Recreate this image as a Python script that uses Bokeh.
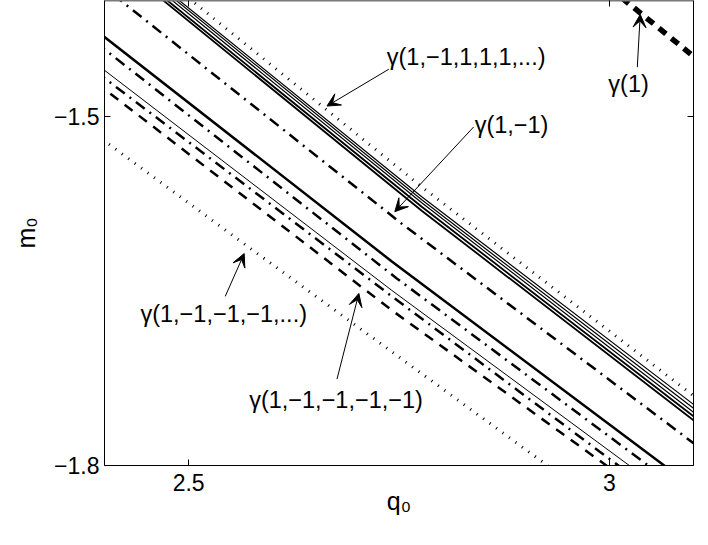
from bokeh.plotting import figure
from bokeh.models import Range1d, FixedTicker, LinearAxis, Label, Arrow, VeeHead
from bokeh.embed import file_html
from bokeh.resources import INLINE

# ---- axes ----
x_ticks = [2.5, 3.0]
x_tick_labels = ["2.5", "3"]
y_ticks = [-1.8, -1.5]
y_tick_labels = ["\u22121.8", "\u22121.5"]

# ---- curves (q0, m0) ----
# gamma(1): thick dashed
g1_q = [3.00, 3.10]
g1_m = [-1.389, -1.448]
# limit gamma(1,-1,1,1,1,...): dotted
up_lim_q = [2.50, 2.78, 3.10]
up_lim_m = [-1.398, -1.562, -1.740]
# bundle of thin solid curves converging to the upper limit
bundle_q = [[2.4804, 2.777, 3.10],
            [2.4768, 2.777, 3.10],
            [2.4721, 2.777, 3.10],
            [2.4662, 2.777, 3.10],
            [2.4615, 2.777, 3.10]]
bundle_m = [[-1.395, -1.5688, -1.7474],
            [-1.395, -1.5714, -1.7508],
            [-1.395, -1.5740, -1.7542],
            [-1.395, -1.5774, -1.7577],
            [-1.395, -1.5808, -1.7611]]
bundle_w = [1.2, 1.2, 1.2, 1.8, 1.8]
# gamma(1,-1): dash-dot
g1m1_q = [2.4105, 2.7533, 3.10]
g1m1_m = [-1.395, -1.5920, -1.7808]
# thick solid
ts_q = [2.39, 2.7415, 3.0836]
ts_m = [-1.4257, -1.6245, -1.81]
# dash-dot (lower group)
dd_q = [2.39, 2.7474, 3.0648]
dd_m = [-1.4363, -1.6391, -1.81]
# thin solid
tn_q = [2.39, 2.7415, 3.0424]
tn_m = [-1.4545, -1.6494, -1.81]
# dash-dot close to thin solid
dd2_q = [2.39, 2.7415, 3.0291]
dd2_m = [-1.4613, -1.6545, -1.81]
# gamma(1,-1,-1,-1,-1): dashed
g5_q = [2.39, 2.7415, 3.0155]
g5_m = [-1.4707, -1.6665, -1.81]
# limit gamma(1,-1,-1,-1,...): dotted
lo_lim_q = [2.39, 2.5672, 2.9453]
lo_lim_m = [-1.5155, -1.6100, -1.81]

# ---- annotations ----
ann_text = ["\u03b3(1,\u22121,1,1,1,...)", "\u03b3(1)", "\u03b3(1,\u22121)",
            "\u03b3(1,\u22121,\u22121,\u22121,...)", "\u03b3(1,\u22121,\u22121,\u22121,\u22121)"]
ann_q = [2.7355, 2.9988, 2.8399, 2.4427, 2.5719]
ann_m = [-1.4488, -1.4720, -1.5071, -1.6700, -1.7437]
arr_q0 = [2.7379, 3.0332, 2.8387, 2.5435, 2.6763]
arr_m0 = [-1.4591, -1.4574, -1.5088, -1.6545, -1.7257]
arr_q1 = [2.6644, 3.0367, 2.7450, 2.5660, 2.7023]
arr_m1 = [-1.4908, -1.4120, -1.5817, -1.6177, -1.6520]

FONT = "Liberation Sans"

p = figure(width=700, height=537, x_range=Range1d(2.4, 3.1), y_range=Range1d(-1.8, -1.4),
           output_backend="svg", toolbar_location=None,
           min_border_left=104, min_border_right=7, min_border_top=0, min_border_bottom=72)
p.grid.visible = False
p.outline_line_color = None
p.background_fill_color = "white"
p.border_fill_color = "white"

def style_axis(ax, ticks, labels, show_labels=True):
    ax.ticker = FixedTicker(ticks=ticks)
    ax.major_label_overrides = {t: l for t, l in zip(ticks, labels)}
    ax.major_tick_in = 6
    ax.major_tick_out = 0
    ax.minor_tick_line_color = None
    ax.major_tick_line_color = "black"
    ax.axis_line_color = "black"
    ax.major_label_text_font = FONT
    ax.major_label_text_color = "black"
    if show_labels:
        ax.major_label_text_font_size = "23px"
    else:
        ax.major_label_text_font_size = "0px"
        ax.major_label_standoff = 0

xa = p.xaxis[0]
style_axis(xa, x_ticks, x_tick_labels)
xa.major_label_standoff = 8
xa.axis_label = "q\u2080"
xa.axis_label_text_font = FONT
xa.axis_label_text_font_size = "25px"
xa.axis_label_text_font_style = "normal"
xa.axis_label_text_color = "black"
xa.axis_label_standoff = -7

ya = p.yaxis[0]
style_axis(ya, y_ticks, y_tick_labels)
ya.major_label_standoff = 5
ya.axis_label = "m\u2080"
ya.axis_label_text_font = FONT
ya.axis_label_text_font_size = "25px"
ya.axis_label_text_font_style = "normal"
ya.axis_label_text_color = "black"
ya.axis_label_standoff = 11

top = LinearAxis()
style_axis(top, x_ticks, ["", ""], show_labels=False)
top.axis_line_color = "#7a7a7a"
top.axis_line_width = 2
p.add_layout(top, "above")
right = LinearAxis()
style_axis(right, y_ticks, ["", ""], show_labels=False)
p.add_layout(right, "right")

# curves
p.line(g1_q, g1_m, line_color="black", line_width=5.5, line_dash="9 7")
p.line(up_lim_q, up_lim_m, line_color="black", line_width=3, line_dash="1 7")
for bq, bm, bw in zip(bundle_q, bundle_m, bundle_w):
    p.line(bq, bm, line_color="black", line_width=bw)
p.line(g1m1_q, g1m1_m, line_color="black", line_width=2.5, line_dash="11 6 2 6")
p.line(ts_q, ts_m, line_color="black", line_width=2.5)
p.line(dd_q, dd_m, line_color="black", line_width=2.5, line_dash="11 6 2 6")
p.line(tn_q, tn_m, line_color="black", line_width=1)
p.line(dd2_q, dd2_m, line_color="black", line_width=2.5, line_dash="11 6 2 6")
p.line(g5_q, g5_m, line_color="black", line_width=2.5, line_dash="10 8")
p.line(lo_lim_q, lo_lim_m, line_color="black", line_width=3, line_dash="1 7")

for t, q, m in zip(ann_text, ann_q, ann_m):
    p.add_layout(Label(x=q, y=m, text=t, text_font=FONT, text_font_size="23.5px",
                       text_baseline="middle", text_align="left", text_color="black"))
for q0, m0, q1, m1 in zip(arr_q0, arr_m0, arr_q1, arr_m1):
    p.add_layout(Arrow(x_start=q0, y_start=m0, x_end=q1, y_end=m1, line_width=1, line_color="black",
                       end=VeeHead(size=13, fill_color="black", line_color="black", line_width=1)))

open("out.html", "w").write(file_html(p, INLINE))
